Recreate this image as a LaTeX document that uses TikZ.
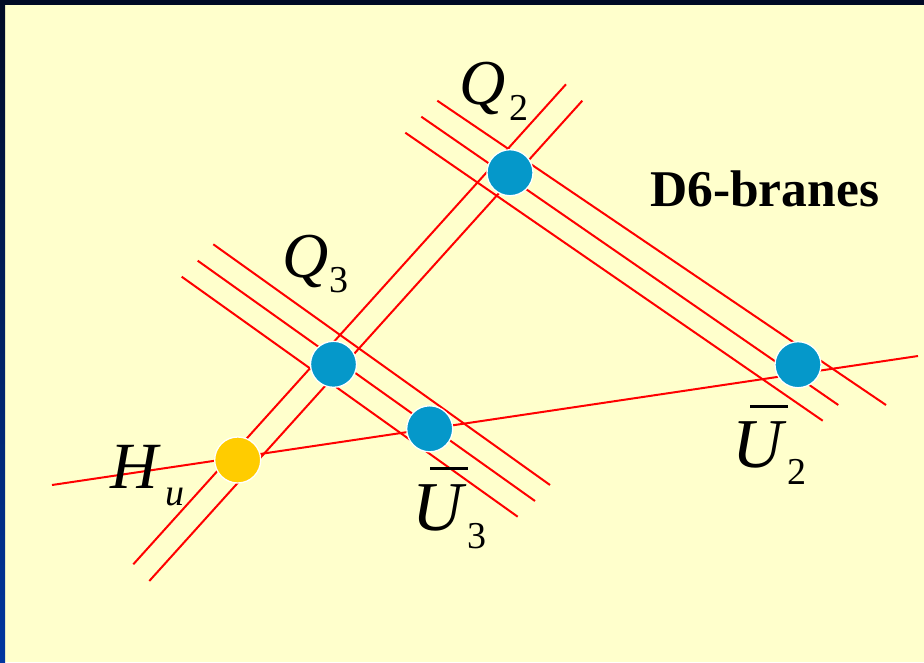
\documentclass[tikz,border=0pt]{standalone}
\usepackage{fontspec}
\setmainfont{Liberation Serif}
\begin{document}
\begin{tikzpicture}[x=1pt,y=-1pt]
\definecolor{bgyellow}{HTML}{FFFFCC}
\definecolor{navytop}{HTML}{000A25}
\definecolor{navybot}{HTML}{0036A0}
\definecolor{dotblue}{HTML}{0598CA}
\definecolor{dotyellow}{HTML}{FFCC00}
\tikzset{
  brane/.style={red, line width=2pt},
  bluedot/.style={circle, fill=dotblue, draw=white, line width=1.3pt, minimum size=46pt, inner sep=0pt},
  yellowdot/.style={circle, fill=dotyellow, draw=white, line width=1.3pt, minimum size=46pt, inner sep=0pt},
  qlet/.style={font=\fontsize{64}{64}\selectfont\itshape, inner sep=0pt, anchor=base west},
  hlet/.style={font=\fontsize{66}{66}\selectfont\itshape, inner sep=0pt, anchor=base west},
  ulet/.style={font=\fontsize{70}{70}\selectfont\itshape, inner sep=0pt, anchor=base west},
  sublet/.style={font=\fontsize{38}{38}\selectfont, inner sep=0pt, anchor=base west},
  title/.style={font=\fontsize{51.5}{51.5}\selectfont\bfseries, inner sep=0pt, anchor=base west}
}
\useasboundingbox (0,0) rectangle (924,662);
\fill[bgyellow] (0,0) rectangle (924,662);
\shade[top color=navytop, bottom color=navybot] (0,0) rectangle (5,662);
\fill[navytop] (0,0) rectangle (924,5);

% brane end points
\coordinate (a1s) at (437.3,100.7); \coordinate (a1e) at (886,405);
\coordinate (a2s) at (421.3,116.7); \coordinate (a2e) at (838.3,405);
\coordinate (a3s) at (405.3,132.7); \coordinate (a3e) at (822.7,420.7);
\coordinate (b1s) at (213.3,244.3); \coordinate (b1e) at (550,485);
\coordinate (b2s) at (197.7,260.7); \coordinate (b2e) at (535,501);
\coordinate (b3s) at (181.7,276.7); \coordinate (b3e) at (517.7,516.7);
\coordinate (c1s) at (133.3,564.3); \coordinate (c1e) at (566,84.3);
\coordinate (c2s) at (149.3,581);   \coordinate (c2e) at (582.3,100.7);
\coordinate (hs) at (52,485);       \coordinate (he) at (918,356);

\draw[brane] (a1s) -- (a1e);
\draw[brane] (a2s) -- (a2e);
\draw[brane] (a3s) -- (a3e);
\draw[brane] (b1s) -- (b1e);
\draw[brane] (b2s) -- (b2e);
\draw[brane] (b3s) -- (b3e);
\draw[brane] (c1s) -- (c1e);
\draw[brane] (c2s) -- (c2e);
\draw[brane] (hs) -- (he);

% intersection dots
\node[yellowdot] (hudot) at (237.7,460) {};
\node[bluedot] (q3dot) at (333.5,364.3) {};
\node[bluedot] (q2dot) at (510,172.7) {};
\node[bluedot] (u3dot) at (429.7,428.8) {};
\node[bluedot] (u2dot) at (798,364.7) {};

% labels
\node[qlet] (q2) at (459,104) {Q};
\node[sublet] (q2s) at (509,120) {2};
\node[qlet] (q3) at (282,277) {Q};
\node[sublet] (q3s) at (329,292) {3};
\node[hlet] (hu) at (110,488) {H};
\node[sublet, font=\fontsize{38}{38}\selectfont\itshape] (hus) at (165,505) {u};
\node[ulet] (u3) at (412,530) {\rlap{\hspace{18pt}\rule[60.5pt]{38pt}{3pt}}U};
\node[sublet] (u3s) at (467,548) {3};
\node[ulet] (u2) at (732,467) {\rlap{\hspace{18pt}\rule[59.5pt]{38pt}{3pt}}U};
\node[sublet] (u2s) at (787,484) {2};
\node[title] (d6) at (650,206) {D6-branes};
\end{tikzpicture}
\end{document}
